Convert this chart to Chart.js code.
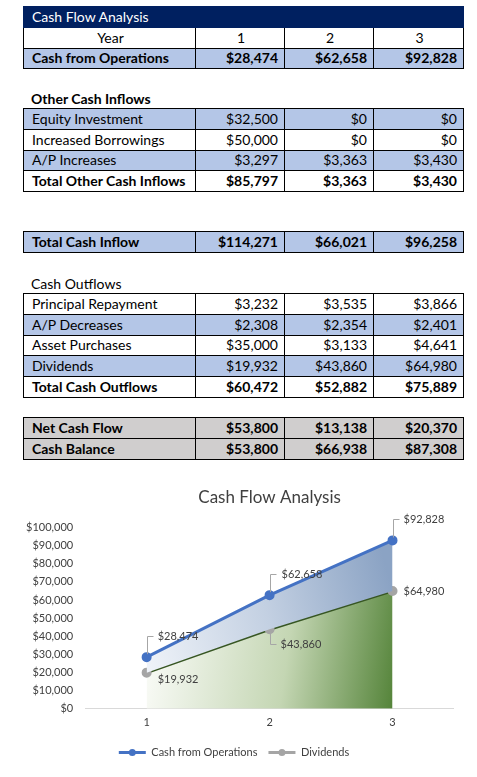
<!DOCTYPE html>
<html>
<head>
<meta charset="utf-8">
<script src="https://cdn.jsdelivr.net/npm/chart.js"></script>
<style>
body{margin:0;background:#fff;font-family:Lato,'Open Sans',sans-serif;width:477px;height:777px;position:relative;overflow:hidden}
table.t{position:absolute;left:23px;width:441px;border-collapse:collapse;table-layout:fixed;font-size:14px;color:#000}
table.t tr{height:20.8px}
table.t td{border:1px solid #000;padding:0 6px 0 8px;line-height:18px;white-space:nowrap;text-align:right}
table.t td:first-child{text-align:left}
table.t tr.center td{text-align:center}
tr.blue td{background:#B4C6E7}
tr.gray td{background:#D0CECE}
tr.bold td{font-weight:bold}
tr.hdr td{background:#002060;color:#fff;border:1px solid #002060;text-align:left}
.lbl{position:absolute;left:31px;font-size:14px;line-height:20px}
#chartBox{position:absolute;left:0;top:480px;width:477px;height:297px}
</style>
</head>
<body>
<div id="tables"></div>
<div class="lbl" style="top:89px;font-weight:bold">Other Cash Inflows</div>
<div class="lbl" style="top:274px">Cash Outflows</div>
<div id="chartBox"><canvas id="chart"></canvas></div>
<script>
// table data
var years = ['1', '2', '3'];
var cashFromOperations = [28474, 62658, 92828];
var equityInvestment = [32500, 0, 0];
var increasedBorrowings = [50000, 0, 0];
var apIncreases = [3297, 3363, 3430];
var totalOtherCashInflows = [85797, 3363, 3430];
var totalCashInflow = [114271, 66021, 96258];
var principalRepayment = [3232, 3535, 3866];
var apDecreases = [2308, 2354, 2401];
var assetPurchases = [35000, 3133, 4641];
var dividends = [19932, 43860, 64980];
var totalCashOutflows = [60472, 52882, 75889];
var netCashFlow = [53800, 13138, 20370];
var cashBalance = [53800, 66938, 87308];

// chart axis
var yMin = 0, yMax = 100000, yStep = 10000;

function money(v) {
    return '$' + v.toLocaleString('en-US');
}

function makeTable(top, rows) {
    var html = '<table class="t" style="top:' + top + 'px"><colgroup><col style="width:172px"><col style="width:89px"><col style="width:89px"><col style="width:90px"></colgroup>';
    rows.forEach(function(r) {
        html += '<tr class="' + (r.cls || '') + '">';
        if (r.title) {
            html += '<td colspan="4">' + r.title + '</td>';
        } else {
            html += '<td>' + r.label + '</td>';
            r.values.forEach(function(v) {
                html += '<td>' + (typeof v === 'number' ? money(v) : v) + '</td>';
            });
        }
        html += '</tr>';
    });
    return html + '</table>';
}

document.getElementById('tables').innerHTML =
    makeTable(6, [
        {title: 'Cash Flow Analysis', cls: 'hdr'},
        {label: 'Year', values: years, cls: 'center'},
        {label: 'Cash from Operations', values: cashFromOperations, cls: 'blue bold'}
    ]) +
    makeTable(108, [
        {label: 'Equity Investment', values: equityInvestment, cls: 'blue'},
        {label: 'Increased Borrowings', values: increasedBorrowings},
        {label: 'A/P Increases', values: apIncreases, cls: 'blue'},
        {label: 'Total Other Cash Inflows', values: totalOtherCashInflows, cls: 'bold'}
    ]) +
    makeTable(231, [
        {label: 'Total Cash Inflow', values: totalCashInflow, cls: 'blue bold'}
    ]) +
    makeTable(293, [
        {label: 'Principal Repayment', values: principalRepayment},
        {label: 'A/P Decreases', values: apDecreases, cls: 'blue'},
        {label: 'Asset Purchases', values: assetPurchases},
        {label: 'Dividends', values: dividends, cls: 'blue'},
        {label: 'Total Cash Outflows', values: totalCashOutflows, cls: 'bold'}
    ]) +
    makeTable(417, [
        {label: 'Net Cash Flow', values: netCashFlow, cls: 'gray bold'},
        {label: 'Cash Balance', values: cashBalance, cls: 'gray bold'}
    ]);

// where the value labels sit, relative to their point
var labelPlacement = [
    [{dx: 11, dy: -21, leader: true}, {dx: 12, dy: -21, leader: true}, {dx: 11, dy: -21, leader: true}],
    [{dx: 11, dy: 6}, {dx: 11, dy: 15, leader: true}, {dx: 11, dy: 0}]
];

var pointLabels = {
    id: 'pointLabels',
    afterDatasetsDraw: function(chart) {
        var c = chart.ctx;
        c.save();
        c.font = '11px Lato';
        c.fillStyle = '#404040';
        c.textBaseline = 'middle';
        c.textAlign = 'left';
        chart.data.datasets.forEach(function(ds, di) {
            chart.getDatasetMeta(di).data.forEach(function(pt, i) {
                var p = labelPlacement[di][i];
                var ly = Math.round(pt.y + p.dy);
                if (p.leader) {
                    var px = Math.round(pt.x) + 0.5;
                    c.strokeStyle = '#A6A6A6';
                    c.lineWidth = 1;
                    c.beginPath();
                    c.moveTo(px, pt.y + (p.dy < 0 ? -3 : 3));
                    c.lineTo(px, ly + 0.5);
                    c.lineTo(px + 6, ly + 0.5);
                    c.stroke();
                }
                c.fillText(money(ds.data[i]), pt.x + p.dx, ly);
            });
        });
        c.restore();
    }
};

var legendMarkers = {
    id: 'legendMarkers',
    afterDraw: function(chart) {
        var lg = chart.legend;
        if (!lg || !lg.legendHitBoxes) return;
        var c = chart.ctx;
        c.save();
        lg.legendHitBoxes.forEach(function(b, i) {
            c.fillStyle = chart.data.datasets[i].pointBackgroundColor;
            c.beginPath();
            c.arc(b.left + lg.options.labels.pointStyleWidth / 2, b.top + b.height / 2, 3.5, 0, Math.PI * 2);
            c.fill();
        });
        c.restore();
    }
};

function blueFill(context) {
    var chart = context.chart;
    if (!chart.chartArea) return 'rgba(0,0,0,0)';
    var x = chart.scales.x, y = chart.scales.y;
    var g = chart.ctx.createLinearGradient(x.getPixelForValue(0), y.getPixelForValue(cashFromOperations[0]),
        x.getPixelForValue(2), y.getPixelForValue(dividends[2]));
    g.addColorStop(0, '#EEF2F8');
    g.addColorStop(0.5, '#C3D0E2');
    g.addColorStop(1, '#8BA3C4');
    return g;
}

function greenFill(context) {
    var chart = context.chart;
    if (!chart.chartArea) return 'rgba(0,0,0,0)';
    var x = chart.scales.x, y = chart.scales.y;
    var g = chart.ctx.createLinearGradient(x.getPixelForValue(0), y.getPixelForValue(dividends[0]),
        x.getPixelForValue(2), y.getPixelForValue(0));
    g.addColorStop(0, '#F8FAF5');
    g.addColorStop(0.55, '#C4D6B3');
    g.addColorStop(1, '#55843A');
    return g;
}

var myChart = new Chart(document.getElementById('chart').getContext('2d'), {
    type: 'line',
    data: {
        labels: years,
        datasets: [{
            label: 'Cash from Operations',
            data: cashFromOperations,
            borderColor: '#4472C4',
            borderWidth: 3,
            pointBackgroundColor: '#4472C4',
            pointBorderColor: '#4472C4',
            pointRadius: 3.5,
            backgroundColor: blueFill,
            fill: '+1',
            tension: 0
        }, {
            label: 'Dividends',
            data: dividends,
            borderColor: '#375623',
            borderWidth: 3,
            pointBackgroundColor: '#A5A5A5',
            pointBorderColor: '#A5A5A5',
            pointRadius: 3.5,
            backgroundColor: greenFill,
            fill: 'origin',
            tension: 0
        }]
    },
    options: {
        responsive: true,
        maintainAspectRatio: false,
        animation: false,
        layout: {padding: {left: 14, right: 23, top: 0, bottom: 9}},
        plugins: {
            title: {
                display: true,
                text: 'Cash Flow Analysis',
                fullSize: false,
                color: '#404040',
                font: {family: 'Lato', size: 17, weight: 'normal'},
                padding: {top: 7, bottom: 20}
            },
            legend: {
                position: 'bottom',
                labels: {
                    usePointStyle: true,
                    pointStyle: 'line',
                    pointStyleWidth: 27,
                    padding: 11,
                    color: '#404040',
                    font: {family: 'Lato', size: 11}
                }
            },
            tooltip: {enabled: false}
        },
        scales: {
            x: {
                offset: true,
                grid: {display: false, drawTicks: false},
                border: {display: false},
                ticks: {color: '#404040', padding: 7, font: {family: 'Lato', size: 11}}
            },
            y: {
                min: yMin,
                max: yMax,
                border: {display: false},
                grid: {
                    drawTicks: false,
                    color: function(ctx) { return ctx.tick && ctx.tick.value === 0 ? '#D9D9D9' : 'rgba(0,0,0,0)'; }
                },
                ticks: {
                    stepSize: yStep,
                    padding: 12,
                    color: '#404040',
                    font: {family: 'Lato', size: 11},
                    callback: function(v) { return money(v); }
                }
            }
        }
    },
    plugins: [pointLabels, legendMarkers]
});
</script>
</body>
</html>
